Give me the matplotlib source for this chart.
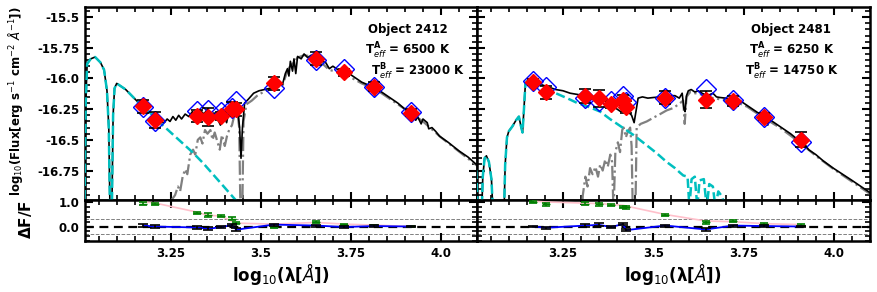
import matplotlib
matplotlib.use("Agg")
import matplotlib.pyplot as plt
from matplotlib.ticker import MultipleLocator, FuncFormatter

plt.rcParams['font.family'] = ['DejaVu Sans']
plt.rcParams['axes.unicode_minus'] = False

# ---------------- Object 2412 ----------------
obj1_name = "Object 2412"
obj1_tA, obj1_tB = "6500", "23000"
obj1_lam = [3.174, 3.205, 3.322, 3.354, 3.389, 3.419, 3.432, 3.536, 3.654, 3.731, 3.814, 3.916]
obj1_obs = [-16.228, -16.335, -16.305, -16.312, -16.306, -16.245, -16.252, -16.04, -15.838, -15.949, -16.067, -16.279]
obj1_err = [0.05, 0.065, 0.05, 0.075, 0.035, 0.05, 0.05, 0.055, 0.05, 0.03, 0.035, 0.03]
obj1_mod = [-16.232, -16.345, -16.265, -16.255, -16.27, -16.24, -16.18, -16.075, -15.85, -15.925, -16.067, -16.27]
obj1_res_single = [0.95, 0.93, 0.56, 0.48, 0.42, 0.33, 0.14, -0.04, 0.2, 0.08, 0.05, 0.01]
obj1_res_single_line = [1.02, 0.98, 0.6, 0.46, 0.44, 0.22, 0.14, 0.1, 0.17, 0.1, 0.06, 0.0]
obj1_res_double = [0.04, 0.0, -0.04, -0.09, -0.03, 0.06, -0.13, 0.08, 0.04, -0.02, 0.02, 0.0]
obj1_res_err = [0.05, 0.05, 0.05, 0.07, 0.04, 0.05, 0.05, 0.04, 0.04, 0.03, 0.03, 0.02]

obj1_tot_lam = [3.010, 3.014, 3.018, 3.028, 3.040, 3.055, 3.065, 3.073, 3.078, 3.082, 3.086, 3.090, 3.094,
                3.100, 3.110, 3.125, 3.145, 3.165, 3.185, 3.205, 3.220, 3.232, 3.240, 3.248, 3.256, 3.264,
                3.272, 3.280, 3.290, 3.300, 3.310, 3.322, 3.332, 3.342, 3.352, 3.362, 3.370, 3.380, 3.388,
                3.396, 3.405, 3.412, 3.420, 3.428, 3.436, 3.441, 3.445, 3.449, 3.455, 3.465, 3.480, 3.495,
                3.510, 3.525, 3.540, 3.550, 3.560, 3.568, 3.574, 3.578, 3.582, 3.588, 3.592, 3.597, 3.602,
                3.612, 3.620, 3.630, 3.640, 3.650, 3.660, 3.670, 3.680, 3.690, 3.700, 3.715, 3.730, 3.745,
                3.760, 3.780, 3.800, 3.812, 3.816, 3.820, 3.840, 3.860, 3.880, 3.900, 3.916, 3.925, 3.930,
                3.935, 3.945, 3.950, 3.962, 3.966, 3.975, 3.985, 3.996, 4.020, 4.050, 4.075, 4.100]
obj1_tot_flux = [-17.2, -16.2, -15.88, -15.84, -15.825, -15.87, -15.93, -16.10, -16.40, -17.2, -17.2, -16.30, -16.08,
                 -16.04, -16.06, -16.09, -16.15, -16.21, -16.26, -16.31, -16.35, -16.36, -16.33, -16.35, -16.31, -16.34,
                 -16.30, -16.33, -16.29, -16.31, -16.27, -16.30, -16.26, -16.29, -16.25, -16.33, -16.28, -16.33, -16.38,
                 -16.28, -16.36, -16.26, -16.30, -16.22, -16.25, -16.40, -16.65, -16.40, -16.20, -16.17, -16.12, -16.10,
                 -16.09, -16.08, -16.06, -16.02, -16.05, -15.96, -15.92, -15.98, -15.86, -15.94, -15.84, -15.96, -15.82,
                 -15.84, -15.80, -15.83, -15.81, -15.83, -15.84, -15.86, -15.87, -15.92, -15.90, -15.93, -15.95, -15.96,
                 -15.99, -16.03, -16.055, -16.07, -16.14, -16.08, -16.12, -16.16, -16.20, -16.25, -16.28, -16.30, -16.34,
                 -16.31, -16.37, -16.33, -16.36, -16.41, -16.40, -16.43, -16.47, -16.52, -16.59, -16.64, -16.705]

obj1_hot_lam = [3.010, 3.014, 3.018, 3.028, 3.040, 3.055, 3.065, 3.073, 3.078, 3.082, 3.086, 3.090, 3.094,
                3.100, 3.110, 3.125, 3.145, 3.165, 3.185, 3.205, 3.220, 3.250, 3.280, 3.310, 3.340, 3.370,
                3.400, 3.430, 3.450]
obj1_hot_flux = [-17.2, -16.2, -15.88, -15.84, -15.825, -15.87, -15.93, -16.10, -16.40, -17.2, -17.2, -16.30, -16.08,
                 -16.04, -16.06, -16.09, -16.15, -16.21, -16.26, -16.31, -16.36, -16.44, -16.52, -16.60, -16.69, -16.79,
                 -16.89, -16.99, -17.06]

obj1_cool_lam = [3.240, 3.250, 3.262, 3.270, 3.276, 3.283, 3.290, 3.296, 3.304, 3.312, 3.318, 3.325, 3.332,
                 3.338, 3.345, 3.352, 3.360, 3.366, 3.372, 3.380, 3.386, 3.392, 3.400, 3.406, 3.412, 3.420,
                 3.428, 3.434, 3.440, 3.444, 3.448, 3.452, 3.460, 3.475, 3.490, 3.507, 3.525, 3.544, 3.560,
                 3.570, 3.580, 3.592, 3.602, 3.620, 3.640, 3.660, 3.690, 3.730, 3.780, 3.820, 3.880, 3.950,
                 4.000, 4.100]
obj1_cool_flux = [-17.2, -17.0, -16.95, -16.88, -16.92, -16.80, -16.74, -16.78, -16.62, -16.58, -16.62, -16.50, -16.48,
                  -16.53, -16.42, -16.45, -16.42, -16.50, -16.44, -16.52, -16.58, -16.46, -16.55, -16.47, -16.42, -16.38,
                  -16.28, -16.25, -16.40, -17.2, -17.2, -16.35, -16.21, -16.18, -16.14, -16.11, -16.09, -16.07, -16.06,
                  -15.97, -15.90, -15.87, -15.83, -15.81, -15.82, -15.85, -15.93, -15.96, -16.04, -16.09, -16.21, -16.35,
                  -16.48, -16.71]

# ---------------- Object 2481 ----------------
obj2_name = "Object 2481"
obj2_tA, obj2_tB = "6250", "14750"
obj2_lam = [3.167, 3.203, 3.312, 3.349, 3.383, 3.416, 3.425, 3.533, 3.645, 3.722, 3.806, 3.908]
obj2_obs = [-16.031, -16.114, -16.141, -16.163, -16.21, -16.177, -16.232, -16.155, -16.174, -16.182, -16.312, -16.498]
obj2_err = [0.025, 0.055, 0.058, 0.07, 0.03, 0.04, 0.05, 0.055, 0.07, 0.04, 0.03, 0.06]
obj2_mod = [-16.017, -16.067, -16.155, -16.182, -16.18, -16.141, -16.19, -16.155, -16.086, -16.174, -16.31, -16.518]
obj2_res_single = [1.0, 0.92, 0.95, 0.92, 0.9, 0.82, 0.79, 0.47, 0.17, 0.24, 0.1, 0.06]
obj2_res_single_line = [1.05, 1.02, 0.97, 0.95, 0.92, 0.88, 0.85, 0.5, 0.23, 0.2, 0.12, 0.08]
obj2_res_double = [0.0, -0.05, 0.04, 0.07, -0.02, 0.1, -0.15, 0.04, -0.12, 0.04, 0.02, 0.0]
obj2_res_err = [0.04, 0.05, 0.05, 0.06, 0.03, 0.04, 0.05, 0.04, 0.06, 0.04, 0.03, 0.03]

obj2_tot_lam = [3.000, 3.004, 3.010, 3.016, 3.024, 3.028, 3.033, 3.038, 3.045, 3.052, 3.058, 3.086, 3.090,
                3.095, 3.100, 3.110, 3.120, 3.128, 3.133, 3.138, 3.142, 3.146, 3.152, 3.158, 3.170, 3.190,
                3.210, 3.230, 3.250, 3.270, 3.290, 3.310, 3.330, 3.353, 3.370, 3.385, 3.400, 3.410, 3.420,
                3.430, 3.440, 3.447, 3.452, 3.458, 3.470, 3.485, 3.500, 3.520, 3.540, 3.560, 3.572, 3.580,
                3.585, 3.588, 3.592, 3.597, 3.605, 3.615, 3.625, 3.635, 3.650, 3.665, 3.675, 3.685, 3.700,
                3.720, 3.740, 3.760, 3.780, 3.800, 3.814, 3.817, 3.820, 3.850, 3.880, 3.905, 3.912, 3.918,
                3.930, 3.950, 3.970, 3.998, 4.050, 4.100]
obj2_tot_flux = [-16.64, -16.66, -16.76, -17.2, -17.2, -16.80, -16.65, -16.63, -16.68, -16.82, -17.2, -17.2, -16.70,
                 -16.48, -16.43, -16.39, -16.34, -16.31, -16.38, -16.44, -16.25, -16.04, -16.02, -16.015, -16.03, -16.05,
                 -16.07, -16.09, -16.10, -16.12, -16.13, -16.14, -16.15, -16.17, -16.19, -16.22, -16.25, -16.27, -16.25,
                 -16.27, -16.30, -16.36, -16.27, -16.16, -16.15, -16.16, -16.155, -16.15, -16.14, -16.14, -16.16, -16.12,
                 -16.25, -16.27, -16.14, -16.10, -16.09, -16.11, -16.10, -16.12, -16.14, -16.12, -16.15, -16.155, -16.16,
                 -16.17, -16.18, -16.22, -16.26, -16.30, -16.32, -16.38, -16.33, -16.39, -16.45, -16.51, -16.55, -16.53,
                 -16.58, -16.62, -16.67, -16.73, -16.83, -16.93]

obj2_hot_lam = [3.000, 3.004, 3.010, 3.016, 3.024, 3.028, 3.033, 3.038, 3.045, 3.052, 3.058, 3.086, 3.090,
                3.095, 3.100, 3.110, 3.120, 3.128, 3.133, 3.138, 3.142, 3.146, 3.152, 3.158, 3.170, 3.190,
                3.210, 3.230, 3.261, 3.290, 3.320, 3.353, 3.380, 3.410, 3.445, 3.480, 3.510, 3.537, 3.560,
                3.575, 3.583, 3.595, 3.600, 3.606, 3.615, 3.622, 3.628, 3.640, 3.648, 3.655, 3.665, 3.672,
                3.680, 3.690, 3.700, 3.720]
obj2_hot_flux = [-16.64, -16.66, -16.76, -17.2, -17.2, -16.80, -16.65, -16.63, -16.68, -16.82, -17.2, -17.2, -16.70,
                 -16.48, -16.43, -16.39, -16.34, -16.31, -16.38, -16.44, -16.25, -16.04, -16.02, -16.015, -16.03, -16.05,
                 -16.08, -16.12, -16.16, -16.20, -16.23, -16.27, -16.33, -16.39, -16.46, -16.54, -16.61, -16.68, -16.73,
                 -16.77, -16.79, -16.80, -17.05, -16.82, -16.80, -17.05, -16.83, -16.82, -17.05, -16.86, -16.88, -17.05,
                 -16.92, -16.96, -17.05, -17.10]

obj2_cool_lam = [3.300, 3.305, 3.312, 3.318, 3.325, 3.332, 3.340, 3.347, 3.353, 3.360, 3.367, 3.374, 3.381,
                 3.386, 3.390, 3.395, 3.402, 3.408, 3.414, 3.418, 3.424, 3.430, 3.436, 3.440, 3.444, 3.450,
                 3.454, 3.465, 3.482, 3.500, 3.519, 3.537, 3.556, 3.570, 3.583, 3.587, 3.592, 3.602, 3.615,
                 3.629, 3.650, 3.685, 3.720, 3.760, 3.800, 3.850, 3.905, 3.950, 4.000, 4.100]
obj2_cool_flux = [-17.2, -16.95, -16.80, -16.88, -16.73, -16.78, -16.72, -16.80, -16.70, -16.75, -16.66, -16.72, -16.62,
                  -16.68, -17.1, -16.60, -16.52, -16.60, -16.42, -16.40, -16.48, -16.43, -16.40, -16.55, -17.2, -17.2,
                  -16.40, -16.37, -16.35, -16.32, -16.29, -16.26, -16.24, -16.21, -16.18, -16.37, -16.15, -16.11, -16.12,
                  -16.127, -16.15, -16.17, -16.18, -16.23, -16.31, -16.40, -16.52, -16.63, -16.74, -16.94]

objects = [
    dict(name=obj1_name, tA=obj1_tA, tB=obj1_tB, lam=obj1_lam, obs=obj1_obs, err=obj1_err, mod=obj1_mod,
         rs=obj1_res_single, rsl=obj1_res_single_line, rd=obj1_res_double, re=obj1_res_err,
         tl=obj1_tot_lam, tf=obj1_tot_flux, hl=obj1_hot_lam, hf=obj1_hot_flux, cl=obj1_cool_lam, cf=obj1_cool_flux),
    dict(name=obj2_name, tA=obj2_tA, tB=obj2_tB, lam=obj2_lam, obs=obj2_obs, err=obj2_err, mod=obj2_mod,
         rs=obj2_res_single, rsl=obj2_res_single_line, rd=obj2_res_double, re=obj2_res_err,
         tl=obj2_tot_lam, tf=obj2_tot_flux, hl=obj2_hot_lam, hf=obj2_hot_flux, cl=obj2_cool_lam, cf=obj2_cool_flux),
]

W, H = 878, 292
fig = plt.figure(figsize=(W / 100, H / 100), dpi=100)

lefts = [85, 477]
widths = [392, 393]
top_px, mid_px, bot_px = 7.3, 200, 241


def trim_fmt(v, pos):
    s = '%.2f' % v
    if s.endswith('0'):
        s = s[:-1]
    return s


def style(ax, labelleft, labelbottom):
    ax.tick_params(which='both', direction='in', top=True, right=True, labelsize=8.5)
    ax.tick_params(which='major', length=6, width=1.5, pad=4)
    ax.tick_params(which='minor', length=3.5, width=1.2)
    ax.tick_params(labelleft=labelleft, labelbottom=labelbottom)
    for s in ax.spines.values():
        s.set_linewidth(1.8)


for i, o in enumerate(objects):
    x0 = lefts[i] / W
    w = widths[i] / W
    ax = fig.add_axes([x0, 1 - mid_px / H, w, (mid_px - top_px) / H])
    axr = fig.add_axes([x0, 1 - bot_px / H, w, (bot_px - mid_px) / H])

    # spectra
    ax.plot(o['cl'], o['cf'], color='grey', ls='-.', lw=1.6, zorder=2)
    ax.plot(o['tl'], o['tf'], color='black', ls='-', lw=1.2, zorder=3)
    ax.plot(o['hl'], o['hf'], color='c', ls='--', lw=1.8, zorder=4)
    # photometry
    ax.plot(o['lam'], o['mod'], ls='none', marker='D', ms=10, mfc='none', mec='blue', mew=1.0, zorder=5)
    ax.errorbar(o['lam'], o['obs'], yerr=o['err'], fmt='none', ecolor='black', elinewidth=1.2,
                capsize=4, capthick=1.2, zorder=6)
    ax.plot(o['lam'], o['obs'], ls='none', marker='D', ms=8, mfc='red', mec='red', zorder=7)

    ax.set_xlim(3.012, 4.1)
    ax.set_ylim(-16.99, -15.42)
    ax.xaxis.set_major_locator(MultipleLocator(0.25))
    ax.xaxis.set_minor_locator(MultipleLocator(0.05))
    ax.yaxis.set_major_locator(MultipleLocator(0.25))
    ax.yaxis.set_minor_locator(MultipleLocator(0.05))
    ax.yaxis.set_major_formatter(FuncFormatter(trim_fmt))
    style(ax, labelleft=(i == 0), labelbottom=False)
    for lab in ax.get_yticklabels():
        lab.set_fontweight('bold')

    cx = 0.824 if i == 0 else 0.80
    ax.text(cx, 0.885, o['name'], transform=ax.transAxes, ha='center', va='center',
            fontsize=8.5, fontweight='bold')
    ax.text(cx, 0.775, r'T$^{\mathbf{A}}_{eff}$ = ' + o['tA'] + ' K', transform=ax.transAxes,
            ha='center', va='center', fontsize=8.5, fontweight='bold')
    ax.text(cx + (0.026 if i == 0 else 0.0), 0.665, r'T$^{\mathbf{B}}_{eff}$ = ' + o['tB'] + ' K',
            transform=ax.transAxes, ha='center', va='center', fontsize=8.5, fontweight='bold')

    # residuals
    axr.axhline(0.3, color='grey', ls='--', lw=0.7, zorder=1)
    axr.axhline(-0.3, color='grey', ls='--', lw=0.7, zorder=1)
    axr.axhline(0.0, color='black', ls='--', lw=1.6, dashes=(4, 2.5), zorder=2)
    axr.plot(o['lam'], o['rsl'], color='pink', lw=1.2, zorder=3)
    axr.errorbar(o['lam'], o['rs'], yerr=o['re'], fmt='_', color='green', ecolor='green', ms=6,
                 elinewidth=1.2, capsize=3, capthick=1.2, zorder=4)
    axr.plot(o['lam'], o['rd'], color='blue', lw=1.3, zorder=5)
    axr.errorbar(o['lam'], o['rd'], yerr=o['re'], fmt='none', ecolor='black', elinewidth=1.2,
                 capsize=3.5, capthick=1.2, zorder=6)
    axr.set_xlim(3.012, 4.1)
    axr.set_ylim(-0.6, 1.1)
    axr.xaxis.set_major_locator(MultipleLocator(0.25))
    axr.xaxis.set_minor_locator(MultipleLocator(0.05))
    axr.yaxis.set_major_locator(MultipleLocator(1.0))
    axr.yaxis.set_minor_locator(MultipleLocator(0.2))
    axr.yaxis.set_major_formatter(FuncFormatter(lambda v, p: '%.1f' % v))
    axr.xaxis.set_major_formatter(FuncFormatter(trim_fmt))
    style(axr, labelleft=(i == 0), labelbottom=True)
    for lab in axr.get_xticklabels() + axr.get_yticklabels():
        lab.set_fontweight('bold')

    fig.text((281 if i == 0 else 673) / W, 1 - 274 / H, r'log$_{10}$($\mathbf{\lambda}$[$\AA$])',
             ha='center', va='center', fontsize=12, fontweight='bold')

fig.text(16 / W, 1 - 101 / H, r'log$_{10}$(Flux[erg s$^{-1}$ cm$^{-2}$ $\AA^{-1}$])', rotation=90,
         ha='center', va='center', fontsize=8.5, fontweight='bold')
fig.text(26 / W, 1 - 220 / H, r'$\mathbf{\Delta}$F/F', rotation=90, ha='center', va='center',
         fontsize=11, fontweight='bold')

fig.savefig('out.png', dpi=100)
